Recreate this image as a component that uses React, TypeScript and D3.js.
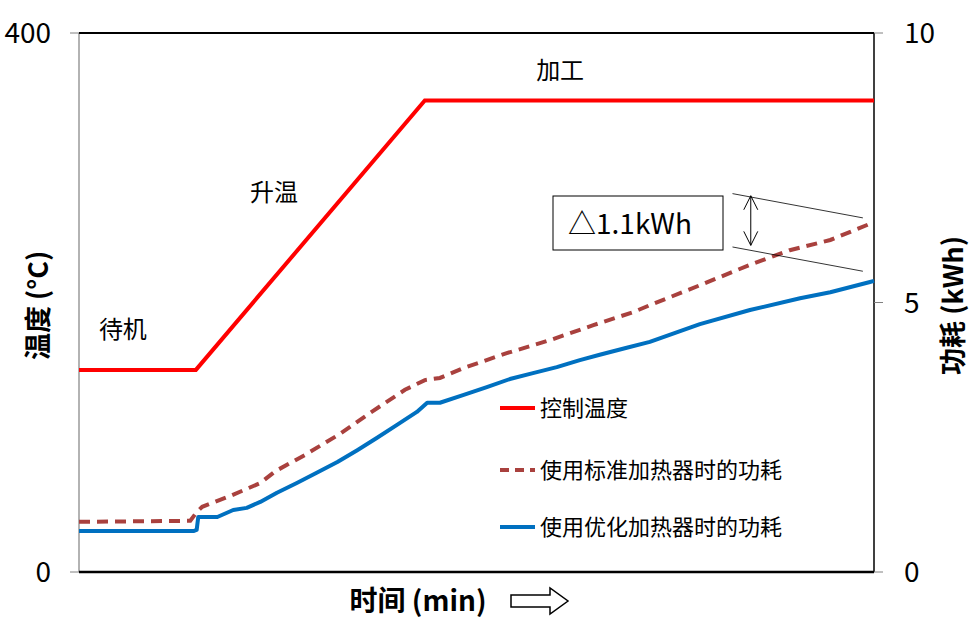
import React, { useRef, useEffect } from "react";
import * as d3 from "d3";

// time axis is unitless in the source (0..100 across the plot)
const tempTime = [0, 14.7, 43.5, 100];
const tempValues = [150, 150, 350, 350];

const stdTime = [0, 14, 14.8, 15.5, 19, 22.8, 24.7, 28.4, 32.8, 36.6, 41, 43.5, 45.4, 48.3, 53.8, 59.2, 64.7, 69.7, 71.8, 78.1, 84.4, 89.4, 94.5, 99.5];
const stdValues = [0.93, 0.95, 1.11, 1.21, 1.41, 1.65, 1.87, 2.17, 2.56, 2.95, 3.38, 3.56, 3.6, 3.78, 4.06, 4.3, 4.58, 4.82, 4.95, 5.32, 5.7, 5.97, 6.16, 6.46];

const optTime = [0, 14.4, 14.8, 15, 17.4, 19.4, 21.1, 22.8, 24.9, 27.4, 29.9, 32.5, 35, 37.5, 40, 42.5, 43.8, 45.4, 48.3, 51.3, 54.2, 57.1, 60.1, 63, 65.5, 68.9, 71.8, 78.1, 84.4, 90.7, 94.5, 99.5, 100];
const optValues = [0.76, 0.76, 0.78, 1.02, 1.02, 1.15, 1.19, 1.3, 1.47, 1.65, 1.84, 2.04, 2.26, 2.49, 2.73, 2.97, 3.14, 3.14, 3.28, 3.43, 3.58, 3.69, 3.8, 3.93, 4.03, 4.16, 4.27, 4.6, 4.86, 5.08, 5.19, 5.38, 5.4];

const leftTicks = [0, 400];
const rightTicks = [0, 5, 10];

const legendNames = ["控制温度", "使用标准加热器时的功耗", "使用优化加热器时的功耗"];
const phaseLabels = [
  { text: "待机", t: 2.5, v: 180 },
  { text: "升温", t: 21.5, v: 282 },
  { text: "加工", t: 57.5, v: 372 },
];

const FONT = "'Noto Sans CJK SC', 'Noto Sans', sans-serif";

export default function App() {
  const ref = useRef<SVGSVGElement | null>(null);

  useEffect(() => {
    document.body.style.margin = "0";
    const svg = d3.select(ref.current);
    svg.selectAll("*").remove();

    const left = 79, right = 874, top = 33, bottom = 572;
    const x = d3.scaleLinear().domain([0, 100]).range([left, right]);
    const yT = d3.scaleLinear().domain([0, 400]).range([bottom, top]);
    const yE = d3.scaleLinear().domain([0, 10]).range([bottom, top]);

    // frame
    svg.append("line").attr("x1", left).attr("x2", left).attr("y1", top).attr("y2", bottom)
      .attr("stroke", "#808080").attr("stroke-width", 1.2);
    svg.append("line").attr("x1", left).attr("x2", right).attr("y1", top).attr("y2", top)
      .attr("stroke", "#000").attr("stroke-width", 2);
    svg.append("line").attr("x1", left).attr("x2", right).attr("y1", bottom).attr("y2", bottom)
      .attr("stroke", "#000").attr("stroke-width", 2.5);
    svg.append("line").attr("x1", right).attr("x2", right).attr("y1", top).attr("y2", bottom)
      .attr("stroke", "#000").attr("stroke-width", 1.5);

    leftTicks.forEach((v) => {
      svg.append("line").attr("x1", left - 9).attr("x2", left).attr("y1", yT(v)).attr("y2", yT(v))
        .attr("stroke", "#808080").attr("stroke-width", 1);
      svg.append("text").attr("x", left - 28).attr("y", yT(v)).attr("dy", "0.36em")
        .attr("text-anchor", "end").attr("font-family", FONT).attr("font-size", 28).text(v);
    });
    rightTicks.forEach((v) => {
      svg.append("line").attr("x1", right).attr("x2", right + 9).attr("y1", yE(v)).attr("y2", yE(v))
        .attr("stroke", "#808080").attr("stroke-width", 1);
      svg.append("text").attr("x", right + 30).attr("y", yE(v)).attr("dy", "0.36em")
        .attr("text-anchor", "start").attr("font-family", FONT).attr("font-size", 28).text(v);
    });

    // axis titles
    svg.append("text").attr("transform", `translate(38,${(top + bottom) / 2 + 3}) rotate(-90)`)
      .attr("text-anchor", "middle").attr("dy", "0.36em").attr("font-family", FONT)
      .attr("font-size", 27).attr("font-weight", "bold").text("温度 (°C)");
    svg.append("text").attr("transform", `translate(953,${(top + bottom) / 2 + 3}) rotate(-90)`)
      .attr("text-anchor", "middle").attr("dy", "0.36em").attr("font-family", FONT)
      .attr("font-size", 27).attr("font-weight", "bold").text("功耗 (kWh)");
    svg.append("text").attr("x", 418).attr("y", 601).attr("dy", "0.36em").attr("text-anchor", "middle")
      .attr("font-family", FONT).attr("font-size", 28).attr("font-weight", "bold").text("时间 (min)");
    // hollow arrow next to the x title
    svg.append("path")
      .attr("d", "M511,595 L550,595 L550,588 L568,601 L550,614 L550,607 L511,607 Z")
      .attr("fill", "#fff").attr("stroke", "#000").attr("stroke-width", 1.5);

    const lineT = d3.line<number>().x((d, i) => x(tempTime[i])).y((d) => yT(d));
    const lineS = d3.line<number>().x((d, i) => x(stdTime[i])).y((d) => yE(d));
    const lineO = d3.line<number>().x((d, i) => x(optTime[i])).y((d) => yE(d));

    svg.append("path").attr("d", lineS(stdValues)).attr("fill", "none")
      .attr("stroke", "#A9413E").attr("stroke-width", 4).attr("stroke-dasharray", "11,7");
    svg.append("path").attr("d", lineO(optValues)).attr("fill", "none")
      .attr("stroke", "#0070C0").attr("stroke-width", 4).attr("stroke-linejoin", "round");
    svg.append("path").attr("d", lineT(tempValues)).attr("fill", "none")
      .attr("stroke", "#FF0000").attr("stroke-width", 4);

    phaseLabels.forEach((p) => {
      svg.append("text").attr("x", x(p.t)).attr("y", yT(p.v)).attr("dy", "0.36em")
        .attr("font-family", FONT).attr("font-size", 24).text(p.text);
    });

    // legend
    const legStyles = [
      { color: "#FF0000", dash: null },
      { color: "#A9413E", dash: "9,6" },
      { color: "#0070C0", dash: null },
    ];
    const legY = [408, 470, 527];
    legendNames.forEach((name, i) => {
      svg.append("line").attr("x1", 500).attr("x2", 535).attr("y1", legY[i]).attr("y2", legY[i])
        .attr("stroke", legStyles[i].color).attr("stroke-width", 4)
        .attr("stroke-dasharray", legStyles[i].dash);
      svg.append("text").attr("x", 540).attr("y", legY[i]).attr("dy", "0.36em")
        .attr("font-family", FONT).attr("font-size", 22).text(name);
    });

    // delta annotation
    svg.append("rect").attr("x", 553).attr("y", 196).attr("width", 170).attr("height", 54)
      .attr("fill", "#fff").attr("stroke", "#000").attr("stroke-width", 1);
    svg.append("text").attr("x", 630).attr("y", 224).attr("dy", "0.36em").attr("text-anchor", "middle")
      .attr("font-family", FONT).attr("font-size", 28).text("△1.1kWh");
    const aT0 = 82.2, aT1 = 98.6;
    [[7.02, 6.57], [6.03, 5.58]].forEach(([a, b]) => {
      svg.append("line").attr("x1", x(aT0)).attr("x2", x(aT1)).attr("y1", yE(a)).attr("y2", yE(b))
        .attr("stroke", "#000").attr("stroke-width", 0.8);
    });
    const ax = x(84.5), ay0 = yE(6.98), ay1 = yE(6.06);
    svg.append("line").attr("x1", ax).attr("x2", ax).attr("y1", ay0).attr("y2", ay1)
      .attr("stroke", "#000").attr("stroke-width", 1);
    svg.append("path").attr("d", `M${ax - 7},${ay0 + 14} L${ax},${ay0} L${ax + 7},${ay0 + 14}`)
      .attr("fill", "none").attr("stroke", "#000").attr("stroke-width", 1);
    svg.append("path").attr("d", `M${ax - 7},${ay1 - 14} L${ax},${ay1} L${ax + 7},${ay1 - 14}`)
      .attr("fill", "none").attr("stroke", "#000").attr("stroke-width", 1);
  }, []);

  return <svg ref={ref} width={975} height={636} style={{ display: "block", background: "#fff" }} />;
}
